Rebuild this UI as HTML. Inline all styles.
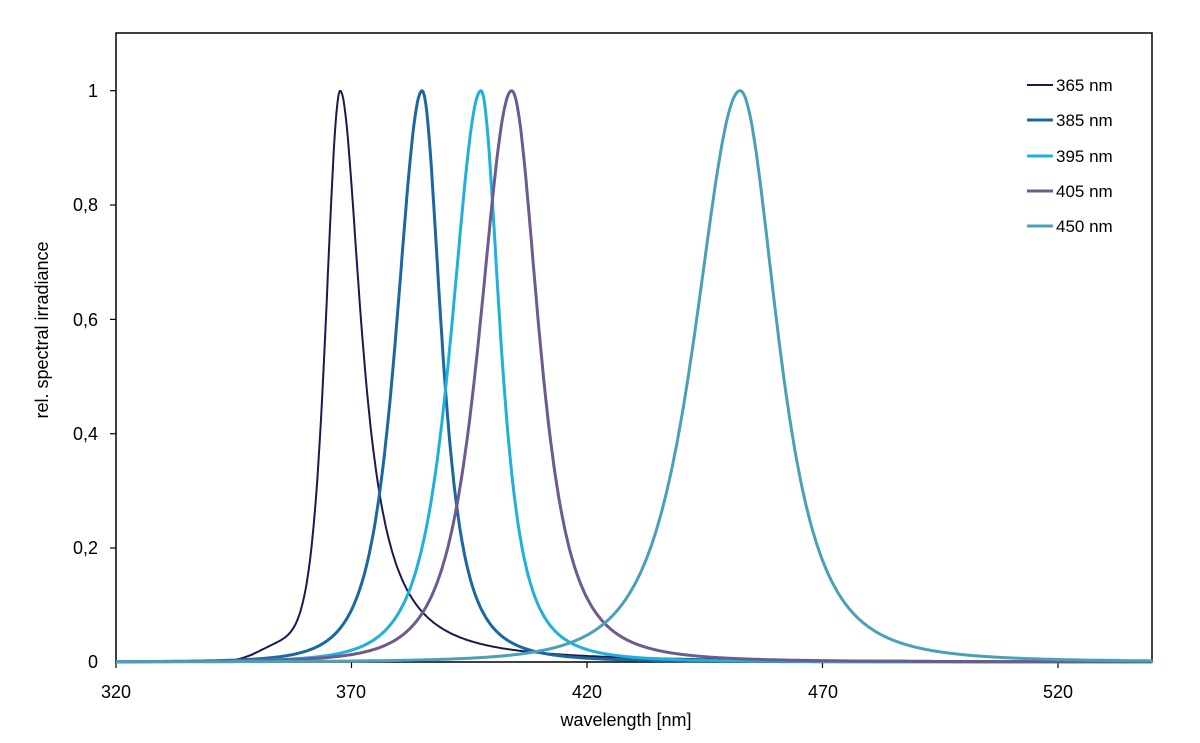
<!DOCTYPE html>
<html><head><meta charset="utf-8"><style>
html,body{margin:0;padding:0;background:#fff;}
svg{display:block;font-family:"Liberation Sans",Arial,sans-serif;}
</style></head><body>
<svg id="s" width="1200" height="743" viewBox="0 0 1200 743">
<rect x="116" y="33" width="1036" height="629" fill="none" stroke="#000" stroke-width="1.5"/>
<g stroke="#000" stroke-width="1.2">
<line x1="116" y1="662" x2="116" y2="668"/><line x1="351.5" y1="662" x2="351.5" y2="668"/>
<line x1="587" y1="662" x2="587" y2="668"/><line x1="822.5" y1="662" x2="822.5" y2="668"/>
<line x1="1058" y1="662" x2="1058" y2="668"/>
<line x1="110" y1="90.7" x2="116" y2="90.7"/><line x1="110" y1="205" x2="116" y2="205"/>
<line x1="110" y1="319.4" x2="116" y2="319.4"/><line x1="110" y1="433.7" x2="116" y2="433.7"/>
<line x1="110" y1="548" x2="116" y2="548"/>
</g>
<g font-size="18" fill="#000" text-anchor="middle">
<text x="116" y="698">320</text><text x="351" y="698">370</text><text x="587" y="698">420</text>
<text x="823" y="698">470</text><text x="1058" y="698">520</text>
</g>
<g font-size="18" fill="#000" text-anchor="end">
<text x="98" y="97">1</text><text x="98" y="211">0,8</text><text x="98" y="326">0,6</text>
<text x="98" y="440">0,4</text><text x="98" y="554">0,2</text><text x="98" y="668">0</text>
</g>
<text x="626" y="726" font-size="18" text-anchor="middle">wavelength [nm]</text>
<text transform="translate(48,330) rotate(-90)" font-size="18" text-anchor="middle">rel. spectral irradiance</text>
<g id="curves" fill="none" stroke-width="3" stroke-linejoin="round"></g>
<g font-size="17" fill="#000">
<line x1="1027" y1="85" x2="1053" y2="85" stroke="#1a1a4e" stroke-width="2"/><text x="1056" y="91">365 nm</text>
<line x1="1027" y1="120" x2="1053" y2="120" stroke="#1b68a0" stroke-width="3"/><text x="1056" y="126">385 nm</text>
<line x1="1027" y1="156" x2="1053" y2="156" stroke="#1fb0dc" stroke-width="3"/><text x="1056" y="162">395 nm</text>
<line x1="1027" y1="191" x2="1053" y2="191" stroke="#6e5a8e" stroke-width="3"/><text x="1056" y="197">405 nm</text>
<line x1="1027" y1="226" x2="1053" y2="226" stroke="#4aa0b6" stroke-width="3"/><text x="1056" y="232">450 nm</text>
</g>
</svg>
<script>
function X(n){return 116+(n-320)*4.71;}
function Y(v){return 662-v*571.3;}
function pv(dx,F,p){return Math.pow(1+Math.pow(2*dx/F,2)*(Math.pow(2,1/p)-1),-p);}
var series=[
 {c:367.6,Fl:7.2,Fr:10.8,pl:2.5,pr:1.0,col:"#1a1a4e",w:2,sh:1},
 {c:385.0,Fl:12.7,Fr:9.5,pl:2,pr:1.4,col:"#1b68a0",w:3},
 {c:397.5,Fl:14.5,Fr:9.5,pl:2,pr:1.4,col:"#1fb0dc",w:3},
 {c:404.0,Fl:15.7,Fr:13.5,pl:2,pr:1.5,col:"#6e5a8e",w:3},
 {c:452.5,Fl:22,Fr:18.5,pl:2,pr:1.6,col:"#4aa0b6",w:3}
];
var g=document.getElementById("curves"),NS="http://www.w3.org/2000/svg";
series.forEach(function(s){
 var d="";
 for(var n=320;n<=540;n+=0.25){
  var dx=n-s.c,F=dx<0?s.Fl:s.Fr,p=dx<0?s.pl:s.pr;
  var v=pv(dx,F,p);
  if(s.sh){v+=0.02*Math.exp(-Math.pow((n-354)/6,2))*(n<364?1:0.3);}
  d+=(d?"L":"M")+X(n).toFixed(1)+","+Y(v).toFixed(1);
 }
 var p=document.createElementNS(NS,"path");
 p.setAttribute("d",d);p.setAttribute("stroke",s.col);p.setAttribute("stroke-width",s.w);
 g.appendChild(p);
});
</script>
</body></html>
